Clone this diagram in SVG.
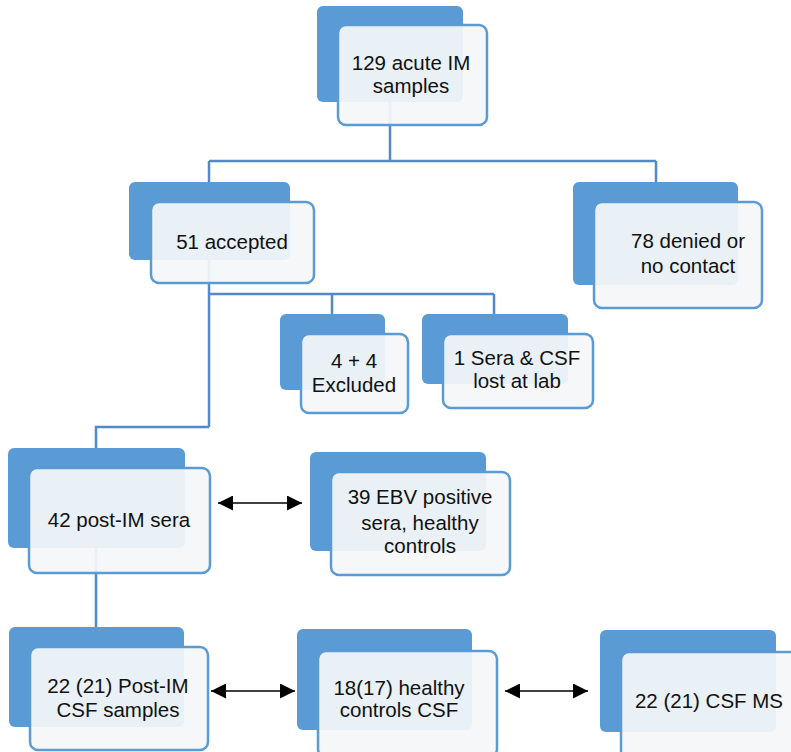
<svg xmlns="http://www.w3.org/2000/svg" width="791" height="752" viewBox="0 0 791 752">
<style>
.back{fill:#5b9bd5}
.front{fill:#f4f6f9;fill-opacity:0.93;stroke:#5b9bd5;stroke-width:2.5}
.conn{stroke:#5389c8;stroke-width:2.5;fill:none}
.arr{stroke:#000;stroke-width:1.5;fill:none;marker-start:url(#ah);marker-end:url(#ah)}
text{font-family:"Liberation Sans",Arial,sans-serif;font-size:20.5px;fill:#111;text-anchor:middle}
</style>
<defs>
<marker id="ah" viewBox="0 0 15 15" refX="15" refY="7.5" markerWidth="15" markerHeight="15" markerUnits="userSpaceOnUse" orient="auto-start-reverse">
<path d="M0,0 L15,7.5 L0,15 z" fill="#000"/>
</marker>
</defs>
<rect width="791" height="752" fill="#fff"/>
<g id="connectors">
<path class="conn" d="M390,102 V161 M209,161 H656 M209,161 V182 M656,161 V182"/>
<path class="conn" d="M209,260 V427 M209,294 H494 M332,294 V314 M494,294 V314"/>
<path class="conn" d="M209,427 H96 V448"/>
<path class="conn" d="M96,548 V627"/>
</g>
<g id="n1">
<rect class="back" x="317" y="6" width="146" height="96" rx="6"/>
<rect class="front" x="338" y="25" width="149" height="100" rx="8"/>
<text x="411" y="70">129 acute IM</text>
<text x="411" y="93">samples</text>
</g>
<g id="n2">
<rect class="back" x="129" y="182" width="161" height="78" rx="6"/>
<rect class="front" x="151" y="202" width="163" height="81" rx="8"/>
<text x="232" y="249">51 accepted</text>
</g>
<g id="n3">
<rect class="back" x="573" y="182" width="165" height="103" rx="6"/>
<rect class="front" x="594" y="202" width="168" height="106" rx="8"/>
<text x="688" y="248">78 denied or</text>
<text x="688" y="273">no contact</text>
</g>
<g id="n4">
<rect class="back" x="280" y="314" width="105" height="76" rx="6"/>
<rect class="front" x="301" y="334" width="107" height="79" rx="8"/>
<text x="354" y="368">4 + 4</text>
<text x="354" y="392">Excluded</text>
</g>
<g id="n5">
<rect class="back" x="422" y="314" width="146" height="70" rx="6"/>
<rect class="front" x="443" y="334" width="150" height="74" rx="8"/>
<text x="517" y="365">1 Sera &amp; CSF</text>
<text x="517" y="388">lost at lab</text>
</g>
<g id="n6">
<rect class="back" x="8" y="448" width="177" height="100" rx="6"/>
<rect class="front" x="29" y="468" width="181" height="105" rx="8"/>
<text x="119" y="527">42 post-IM sera</text>
</g>
<g id="n7">
<rect class="back" x="310" y="452" width="176" height="99" rx="6"/>
<rect class="front" x="331" y="472" width="179" height="103" rx="8"/>
<text x="420" y="504">39 EBV positive</text>
<text x="420" y="530">sera, healthy</text>
<text x="420" y="553">controls</text>
</g>
<g id="n8">
<rect class="back" x="9" y="627" width="175" height="100" rx="6"/>
<rect class="front" x="30" y="647" width="178" height="103" rx="8"/>
<text x="118" y="693">22 (21) Post-IM</text>
<text x="118" y="717">CSF samples</text>
</g>
<g id="n9">
<rect class="back" x="297" y="629" width="175" height="101" rx="6"/>
<rect class="front" x="318" y="651" width="179" height="106" rx="8"/>
<text x="399" y="695">18(17) healthy</text>
<text x="399" y="717">controls CSF</text>
</g>
<g id="n10">
<rect class="back" x="600" y="630" width="176" height="102" rx="6"/>
<rect class="front" x="621" y="652" width="180" height="108" rx="8"/>
<text x="709" y="708">22 (21) CSF MS</text>
</g>
<g id="arrows">
<line class="arr" x1="218" y1="503" x2="302" y2="503"/>
<line class="arr" x1="211" y1="691" x2="295" y2="691"/>
<line class="arr" x1="505" y1="691" x2="588" y2="691"/>
</g>
</svg>
